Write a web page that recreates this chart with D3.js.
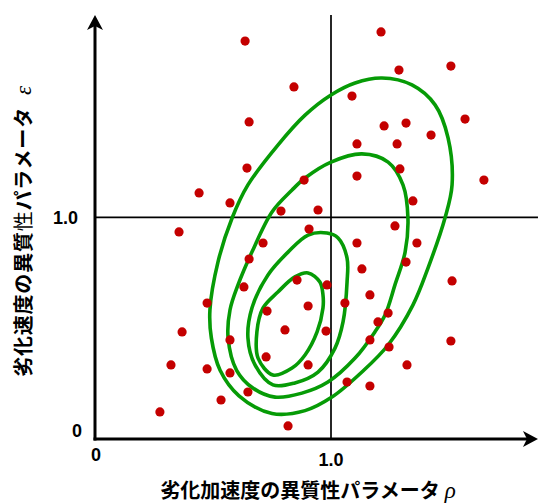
<!DOCTYPE html>
<html>
<head>
<meta charset="utf-8">
<script src="https://cdn.jsdelivr.net/npm/d3@7"></script>
<style>
  body { margin: 0; background: #fff; }
  .tick-label { font-family: "Liberation Sans", Arial, sans-serif; font-weight: bold; font-size: 18px; }
  .axis-title { font-family: "Noto Sans CJK JP", sans-serif; font-weight: bold; font-size: 20px; }
  .greek { font-family: "Liberation Serif", serif; font-style: italic; font-weight: normal; font-size: 23px; }
</style>
</head>
<body>
<script>
/*
DATA
*/
// degradation acceleration heterogeneity rho (x) and rate heterogeneity epsilon (y)
const rho = [0.636, 0.653, 0.644, 0.441, 0.572, 0.356, 0.712, 1.212, 1.288, 1.508,
  0.843, 1.089, 1.568, 1.225, 1.318, 1.424, 1.110, 1.280, 1.292, 1.110,
  1.648, 0.886, 1.347, 0.788, 0.945, 0.907, 1.271, 1.110, 1.364, 0.653,
  0.631, 0.475, 0.856, 0.983, 0.903, 0.729, 0.369, 0.572, 0.805, 0.979,
  0.322, 0.475, 0.572, 0.725, 0.903, 0.648, 0.534, 0.275, 0.818, 1.131,
  1.318, 1.513, 1.165, 1.059, 1.242, 1.199, 1.165, 1.508, 1.246, 1.322,
  1.068, 1.165]
const eps = [1.795, 1.430, 1.222, 1.110, 1.065, 0.934, 0.884, 1.836, 1.664, 1.682,
  1.588, 1.547, 1.443, 1.412, 1.425, 1.371, 1.331, 1.331, 1.218, 1.186,
  1.168, 1.168, 1.074, 1.028, 1.033, 0.947, 0.961, 0.884, 0.884, 0.812,
  0.686, 0.613, 0.717, 0.695, 0.600, 0.577, 0.483, 0.447, 0.492, 0.487,
  0.334, 0.316, 0.298, 0.370, 0.334, 0.212, 0.176, 0.122, 0.059, 0.767,
  0.798, 0.713, 0.650, 0.613, 0.568, 0.528, 0.447, 0.442, 0.415, 0.334,
  0.257, 0.239]

// density contours, outermost first, as traced points [rho, eps]
const contour1 = [[0.487,0.582],[0.493,0.456],[0.530,0.310],[0.610,0.195],[0.750,0.115],[0.890,0.128],
  [1.004,0.189],[1.131,0.302],[1.242,0.424],[1.347,0.604],[1.411,0.771],[1.483,0.997],[1.513,1.146],
  [1.496,1.358],[1.441,1.507],[1.343,1.597],[1.216,1.628],[1.102,1.606],[1.000,1.552],[0.890,1.461],
  [0.775,1.326],[0.648,1.146],[0.581,0.997],[0.521,0.798]]
const contour2 = [[0.572,0.582],[0.564,0.456],[0.600,0.310],[0.669,0.230],[0.763,0.189],[0.877,0.207],
  [0.987,0.257],[1.102,0.365],[1.186,0.483],[1.229,0.559],[1.271,0.695],[1.314,0.843],[1.326,0.997],
  [1.305,1.146],[1.242,1.249],[1.131,1.286],[1.000,1.249],[0.890,1.177],[0.835,1.123],[0.750,1.024],
  [0.665,0.843],[0.606,0.695]]
const contour3 = [[0.665,0.591],[0.648,0.456],[0.678,0.334],[0.754,0.244],[0.847,0.253],[0.945,0.302],
  [1.017,0.410],[1.051,0.528],[1.068,0.708],[1.068,0.816],[1.030,0.907],[0.983,0.929],[0.903,0.920],
  [0.818,0.843],[0.733,0.740]]
const contour4 = [[0.712,0.591],[0.686,0.483],[0.691,0.365],[0.754,0.289],[0.835,0.320],[0.890,0.379],
  [0.941,0.483],[0.966,0.591],[0.966,0.650],[0.953,0.708],[0.903,0.749],[0.847,0.731],[0.775,0.663]]
const contours = [contour1, contour2, contour3, contour4]

const tickValues = [0, 1]
const tickLabels = ["0", "1.0"]
const xTitle = "劣化加速度の異質性パラメータ"
const yTitleA = "劣化速度の異質"
const yTitleB = "性"
const yTitleC = "パラメータ"

/*
SET UP
*/
const w = 539
const h = 504
const xMax = 1.877
const yMax = 1.912

const svg = d3.select("body")
  .append("svg")
  .attr("width", w)
  .attr("height", h)

const x = d3.scaleLinear()
  .domain([0, 1])
  .range([95, 331])

const y = d3.scaleLinear()
  .domain([0, 1])
  .range([439, 217.3])

/*
REFERENCE LINES AT 1.0
*/
svg.append("line")
  .attr("x1", x(1)).attr("x2", x(1))
  .attr("y1", y(0)).attr("y2", y(yMax))
  .attr("stroke", "#000").attr("stroke-width", 1.7)

svg.append("line")
  .attr("x1", x(0)).attr("x2", x(xMax))
  .attr("y1", y(1)).attr("y2", y(1))
  .attr("stroke", "#000").attr("stroke-width", 1.7)

/*
AXES WITH ARROWS
*/
svg.append("line")
  .attr("x1", x(0)).attr("x2", x(0))
  .attr("y1", y(0) + 1.5).attr("y2", y(yMax) + 6)
  .attr("stroke", "#000").attr("stroke-width", 3)

svg.append("line")
  .attr("x1", x(0) - 1.5).attr("x2", x(xMax) - 6)
  .attr("y1", y(0)).attr("y2", y(0))
  .attr("stroke", "#000").attr("stroke-width", 3)

// arrow heads
const ax = x(0), ay = y(yMax)
svg.append("path")
  .attr("d", `M${ax},${ay} L${ax + 8},${ay + 15} L${ax},${ay + 11} L${ax - 8},${ay + 15} Z`)
  .attr("fill", "#000")

const bx = x(xMax), by = y(0)
svg.append("path")
  .attr("d", `M${bx},${by} L${bx - 15},${by - 8} L${bx - 11},${by} L${bx - 15},${by + 8} Z`)
  .attr("fill", "#000")

/*
TICK LABELS
*/
svg.selectAll(".xtick")
  .data(tickValues)
  .join("text")
  .attr("class", "tick-label xtick")
  .attr("x", (d) => x(d) + (d === 0 ? 1 : 0))
  .attr("y", (d) => y(0) + (d === 0 ? 22 : 27))
  .attr("text-anchor", "middle")
  .text((d, i) => tickLabels[i])

svg.selectAll(".ytick")
  .data(tickValues)
  .join("text")
  .attr("class", "tick-label ytick")
  .attr("x", (d) => d === 0 ? 82 : 78)
  .attr("y", (d) => y(d) + (d === 0 ? -2 : 6.5))
  .attr("text-anchor", "end")
  .text((d, i) => tickLabels[i])

/*
CONTOURS
*/
const line = d3.line()
  .x((d) => x(d[0]))
  .y((d) => y(d[1]))
  .curve(d3.curveCatmullRomClosed.alpha(0.5))

svg.selectAll(".contour")
  .data(contours)
  .join("path")
  .attr("class", "contour")
  .attr("d", line)
  .attr("fill", "none")
  .attr("stroke", "#069b06")
  .attr("stroke-width", 3.6)

/*
POINTS
*/
svg.selectAll(".point")
  .data(d3.range(rho.length))
  .join("circle")
  .attr("class", "point")
  .attr("cx", (i) => x(rho[i]))
  .attr("cy", (i) => y(eps[i]))
  .attr("r", 4.6)
  .attr("fill", "#c40000")

/*
AXIS TITLES
*/
const xt = svg.append("text")
  .attr("class", "axis-title")
  .attr("x", 308)
  .attr("y", 498)
  .attr("text-anchor", "middle")
xt.append("tspan").text(xTitle)
xt.append("tspan").attr("class", "greek").attr("dx", 5).text("ρ")

const yt = svg.append("text")
  .attr("class", "axis-title")
  .attr("transform", "translate(31,231) rotate(-90)")
  .attr("text-anchor", "middle")
  .attr("letter-spacing", 0.8)
yt.append("tspan").text(yTitleA)
yt.append("tspan").attr("font-weight", "normal").text(yTitleB)
yt.append("tspan").text(yTitleC)
yt.append("tspan").attr("class", "greek").attr("dx", 12).attr("font-size", 25).text("ε")
</script>
</body>
</html>
